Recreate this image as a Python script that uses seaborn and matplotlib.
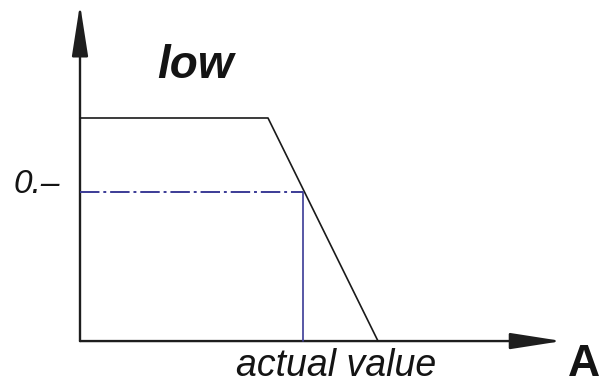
import matplotlib
matplotlib.use("Agg")
import matplotlib.pyplot as plt
from matplotlib.patches import FancyArrowPatch
import pandas as pd
import seaborn as sns

# Membership function "low": plateau then linear fall-off
mf_x = [0.0, 1.88, 2.98]
mf_y = [1.0, 1.0, 0.0]

# Crisp input and its degree of membership
actual_value = 2.23
degree = 0.67

# Axis extents (data units)
x_axis_end = 4.82
y_axis_end = 1.51

sns.set_theme(style="white")
plt.rcParams["font.family"] = ["Liberation Sans", "DejaVu Sans"]

fig = plt.figure(figsize=(6.05, 3.85), dpi=100)
ax = fig.add_axes([0, 0, 1, 1])
ax.set_xlim(-0.80, 5.25)
ax.set_ylim(-0.197, 1.529)
ax.axis("off")

mf = pd.DataFrame({"x": mf_x, "y": mf_y})
sns.lineplot(data=mf, x="x", y="y", ax=ax, color="#1a1a1a", lw=1.2,
             sort=False, estimator=None)

blue = "#3b3b96"
h = pd.DataFrame({"x": [0.0, actual_value], "y": [degree, degree]})
sns.lineplot(data=h, x="x", y="y", ax=ax, color=blue, lw=1.4,
             estimator=None, linestyle=(0, (10, 2, 1.5, 2)))
v = pd.DataFrame({"x": [actual_value, actual_value], "y": [0.0, degree]})
sns.lineplot(data=v, x="x", y="y", ax=ax, color=blue, lw=1.2, estimator=None)

# Coordinate axes with arrowheads
axis_kw = dict(arrowstyle="-|>,head_length=32,head_width=5", mutation_scale=1,
               color="#1e1e1e", lw=1.7, shrinkA=0, shrinkB=0)
ax.add_patch(FancyArrowPatch((0, 0), (x_axis_end, 0), **axis_kw))
ax.add_patch(FancyArrowPatch((0, 0), (0, y_axis_end), **axis_kw))

txt = "#141414"
ax.text(1.15, 1.235, "low", fontsize=33, style="italic", fontweight="bold",
        color=txt, ha="center", va="center")
ax.text(2.56, -0.11, "actual value", fontsize=27, style="italic", color=txt,
        ha="center", va="center")
ax.text(-0.43, 0.70, "0.\u2013", fontsize=24, style="italic", color=txt,
        ha="center", va="center")
ax.text(5.04, -0.105, "A", fontsize=32, fontweight="bold", color=txt,
        ha="center", va="center")

fig.savefig("out.png", dpi=100)
